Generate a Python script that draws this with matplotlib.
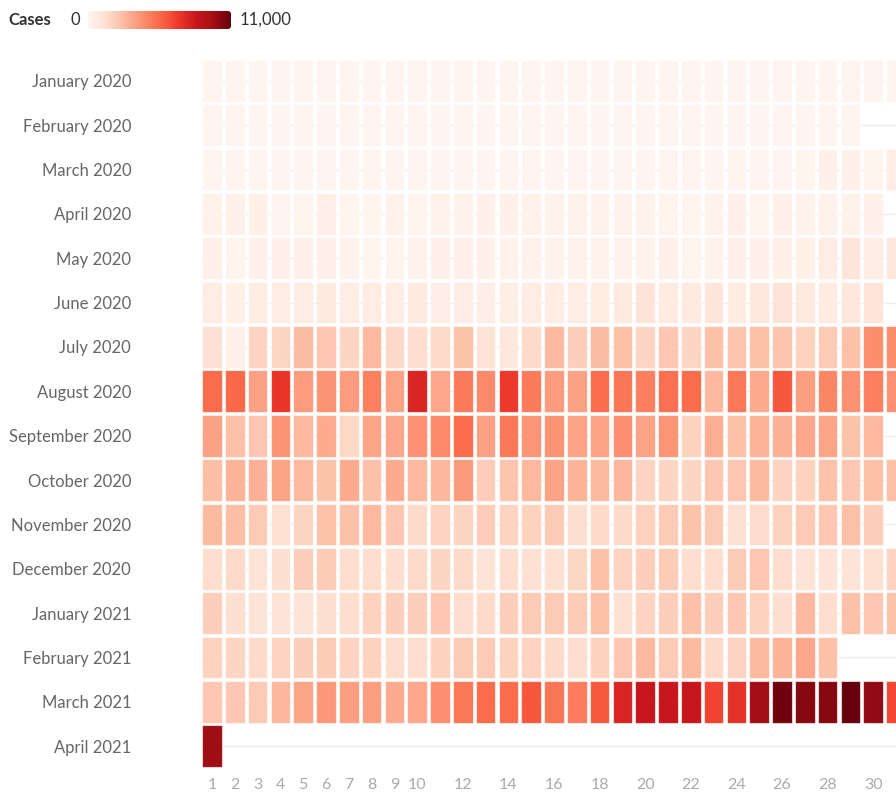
import matplotlib.pyplot as plt
import numpy as np
from matplotlib.colors import Normalize
from matplotlib.patches import FancyBboxPatch

plt.rcParams['font.family'] = ['Lato', 'DejaVu Sans']

# daily new cases, one list per month
months = ['January 2020', 'February 2020', 'March 2020', 'April 2020',
          'May 2020', 'June 2020', 'July 2020', 'August 2020',
          'September 2020', 'October 2020', 'November 2020', 'December 2020',
          'January 2021', 'February 2021', 'March 2021', 'April 2021']

jan_2020 = [0, 0, 0, 0, 0, 0, 0, 0, 0, 0, 0, 0, 0, 0, 0, 0, 0, 0, 0, 0,
            0, 0, 0, 0, 0, 0, 0, 0, 0, 1, 0]
feb_2020 = [0, 1, 0, 0, 1, 0, 0, 0, 0, 0, 0, 0, 0, 0, 0, 0, 0, 0, 0, 0,
            0, 0, 0, 0, 0, 0, 0, 0, 0]
mar_2020 = [0, 0, 0, 0, 0, 2, 0, 4, 14, 9, 16, 3, 12, 12, 76, 4, 45, 15, 13, 28,
            77, 73, 82, 90, 84, 71, 96, 272, 343, 128, 538]
apr_2020 = [227, 322, 385, 76, 152, 414, 104, 106, 206, 119, 233, 220, 284, 291, 230,
            207, 218, 209, 172, 200, 140, 111, 211, 271, 102, 285, 198, 181, 254, 276]
may_2020 = [284, 156, 295, 262, 320, 339, 199, 120, 147, 184, 292, 264, 258, 215, 180,
            214, 208, 205, 213, 224, 279, 163, 180, 258, 284, 350, 380, 539, 1046, 590, 862]
jun_2020 = [552, 359, 634, 579, 539, 714, 555, 579, 518, 740, 450, 580, 443, 492, 530,
            555, 596, 629, 767, 1150, 647, 728, 1024, 639, 882, 1149, 800, 653, 985, 1080]
jul_2020 = [1300, 300, 1850, 1800, 2700, 2350, 1800, 2800, 1650, 1500, 1600, 2450, 1200, 900, 1600,
            2800, 2050, 2700, 2550, 1800, 2350, 1800, 2550, 2400, 2600, 2400, 1900, 2200, 2550, 4300, 4300]
aug_2020 = [5450, 5500, 3650, 7100, 3800, 4100, 3800, 4700, 3600, 7700, 3400, 4900, 4400, 6950, 4900,
            3800, 3650, 5400, 5100, 4800, 5300, 5450, 2800, 5050, 3350, 6050, 3700, 4550, 4150, 4800, 4150]
sep_2020 = [3650, 2600, 2350, 4050, 2800, 3300, 1700, 3500, 3400, 4200, 4450, 5450, 3650, 5000, 4000,
            4100, 3600, 3600, 4250, 3600, 4000, 1900, 3200, 2550, 3000, 3100, 3400, 3450, 2450, 2800]
oct_2020 = [2650, 3000, 3100, 3550, 2800, 2450, 3300, 2550, 3300, 2800, 2850, 3850, 2100, 2400, 2800,
            3600, 3000, 2750, 2850, 1850, 1800, 1800, 2300, 2350, 2750, 1850, 1900, 2500, 2300, 2550, 2600]
nov_2020 = [2750, 2650, 2200, 1350, 1800, 2500, 2550, 2800, 2300, 1600, 1850, 1800, 2100, 1850, 1900,
            2200, 1400, 1600, 1600, 1950, 2200, 2450, 2200, 1350, 1550, 1900, 2200, 2300, 2600, 2050]
dec_2020 = [1500, 1600, 1200, 1400, 2050, 2150, 1500, 1500, 1450, 1600, 1800, 1600, 1200, 1500, 1350,
            1350, 1750, 2550, 1850, 2050, 2150, 1500, 1500, 2200, 2350, 1500, 1200, 1200, 1200, 1350, 1850]
jan_2021 = [2050, 1400, 1200, 1200, 1200, 1400, 1500, 1900, 2050, 2050, 2300, 1500, 1600, 2050, 2200,
            2200, 2150, 2600, 1350, 1850, 2050, 2550, 2050, 2300, 1900, 1400, 2750, 1500, 2550, 2300, 2450]
feb_2021 = [1900, 1800, 1600, 1850, 2050, 2150, 1850, 1900, 1500, 1500, 1900, 2200, 2200, 1900, 1850,
            1600, 1500, 1900, 2300, 2750, 2200, 2750, 1600, 1850, 2750, 3000, 3400, 2550]
mar_2021 = [2300, 2300, 2200, 2850, 3500, 3950, 3700, 3700, 3300, 3400, 4250, 5050, 5450, 5400, 6050,
            5100, 4850, 6000, 7750, 8450, 8350, 8450, 6650, 7250, 9700, 10800, 10300, 10250, 11000, 10050, 6500]
apr_2021 = [9750]

daily = [jan_2020, feb_2020, mar_2020, apr_2020, may_2020, jun_2020, jul_2020, aug_2020,
         sep_2020, oct_2020, nov_2020, dec_2020, jan_2021, feb_2021, mar_2021, apr_2021]

day_ticks = [1, 2, 3, 4, 5, 6, 7, 8, 9, 10, 12, 14, 16, 18, 20, 22, 24, 26, 28, 30]
vmax = 11000

W, H = 896, 792
fig = plt.figure(figsize=(W / 100, H / 100), dpi=100)

left, top, bottom = 200.6, 58.8, 768.2
ax = fig.add_axes([left / W, 1 - bottom / H, 1 - left / W, (bottom - top) / H])

cmap = plt.get_cmap('Reds')
norm = Normalize(0, vmax)

for i, vals in enumerate(daily):
    days = np.arange(1, len(vals) + 1)
    ax.bar(days, 0.94, bottom=i - 0.47, width=0.86, color=cmap(norm(np.array(vals))),
           edgecolor=(1, 1, 1, 0.6), linewidth=0.8, zorder=2)

ax.set_xlim(0.5, 31.0)
ax.set_ylim(len(months) - 0.5, -0.5)
ax.set_yticks(range(len(months)))
ax.set_yticklabels(months)
ax.set_xticks(day_ticks)
ax.set_xticklabels([str(d) for d in day_ticks])
ax.grid(axis='y', color='#eeeeee', linewidth=1, zorder=0)
ax.set_axisbelow(True)
for s in ax.spines.values():
    s.set_visible(False)
ax.tick_params(axis='y', length=0, pad=50, labelsize=12, labelcolor='#666666')
ax.tick_params(axis='x', length=0, pad=7, labelsize=11.5, labelcolor='#aaaaaa')

# legend: gradient bar with rounded corners
bx, by, bw, bh = 88, 11, 143, 18
cax = fig.add_axes([bx / W, 1 - (by + bh) / H, bw / W, bh / H])
grad = np.linspace(0, 1, 256)[None, :]
im = cax.imshow(grad, aspect='auto', cmap='Reds', extent=[0, bw, 0, bh])
cax.set_xlim(0, bw)
cax.set_ylim(0, bh)
clip = FancyBboxPatch((0, 0), bw, bh, boxstyle='round,pad=0,rounding_size=3',
                      transform=cax.transData, facecolor='none', edgecolor='none')
im.set_clip_path(clip)
cax.axis('off')

fig.text(8 / W, 1 - 20 / H, 'Cases', fontsize=12, fontweight='bold', color='#333333',
         ha='left', va='center')
fig.text(75 / W, 1 - 20 / H, '0', fontsize=12, color='#333333', ha='center', va='center')
fig.text(240 / W, 1 - 20 / H, '11,000', fontsize=12, color='#333333', ha='left', va='center')

fig.savefig('out.png', dpi=100)
